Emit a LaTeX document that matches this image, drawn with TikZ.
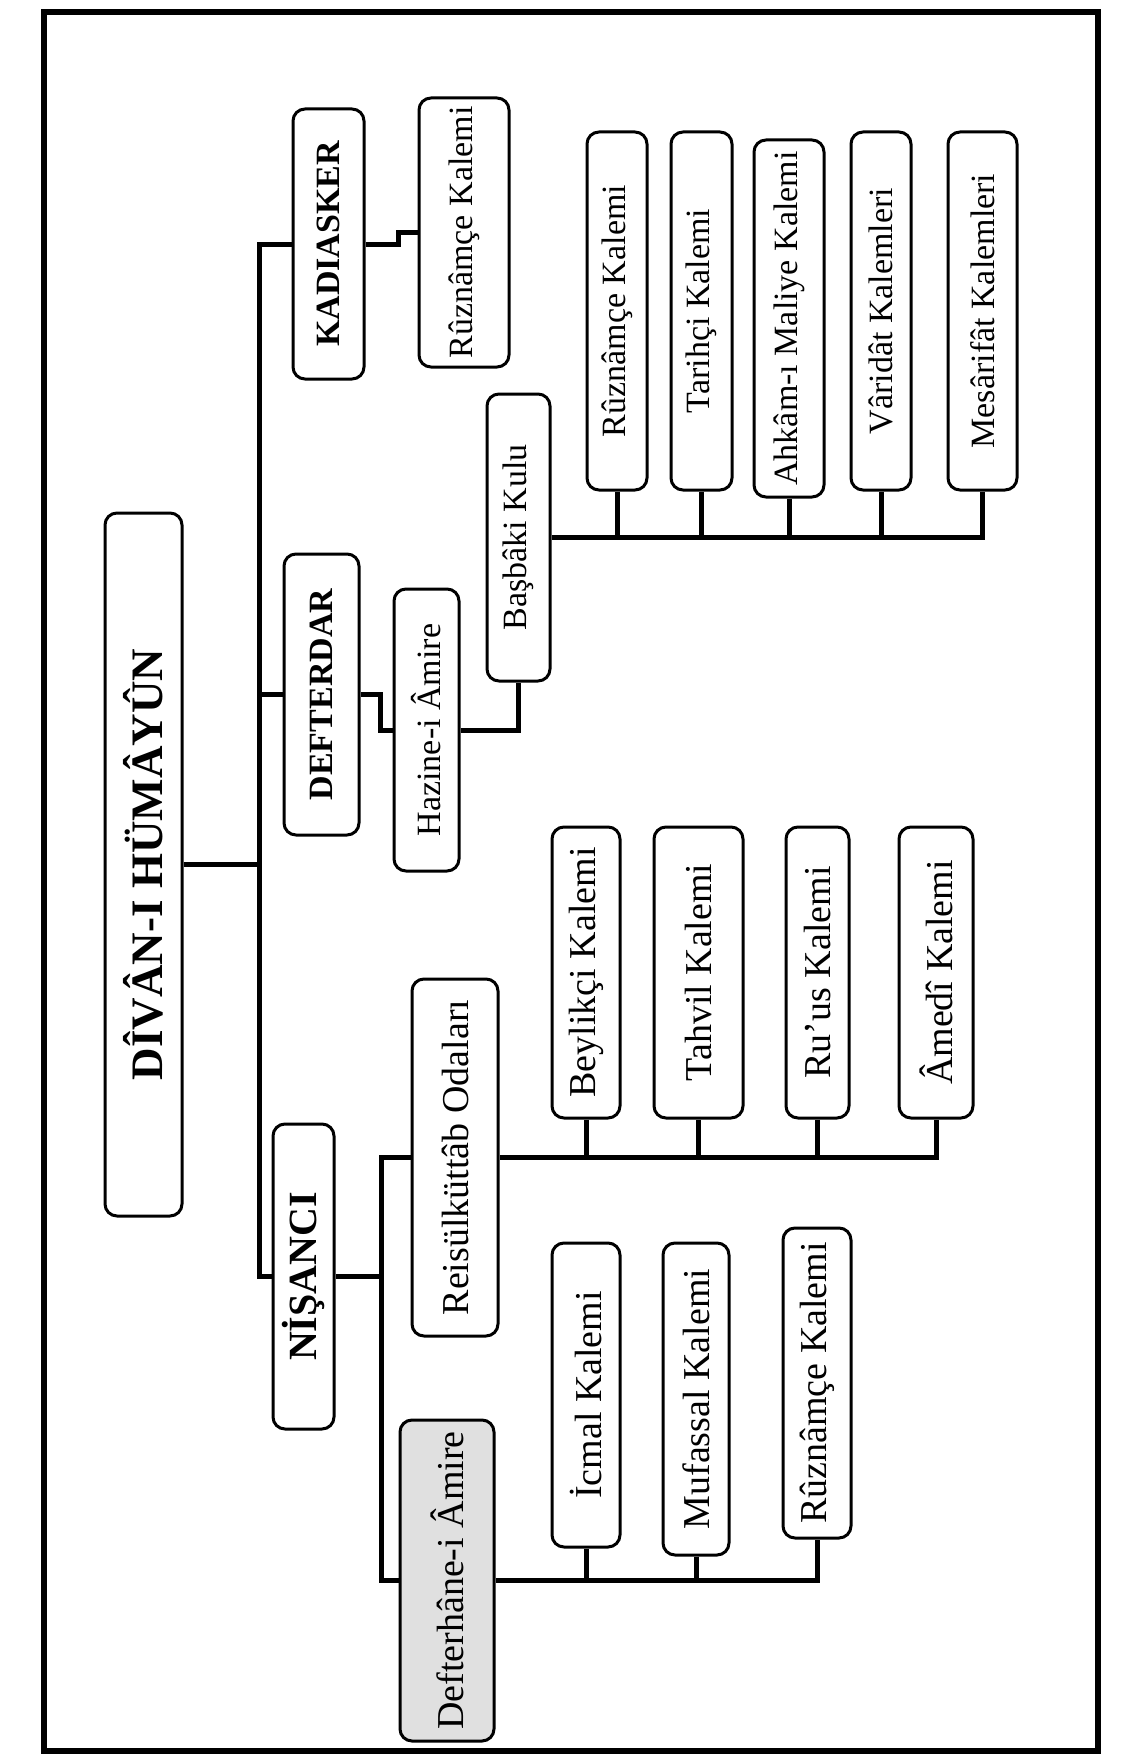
\documentclass[tikz,border=0pt]{standalone}
\usepackage{fontspec}
\setmainfont{Liberation Serif}

\begin{document}
\begin{tikzpicture}[x=1pt, y=-1pt]
        \tikzstyle{box} = [rectangle, rounded corners=12pt, draw=black, line width=3pt, fill=white, rotate=90, text centered, inner sep=0pt, font=\fontsize{34}{40}\selectfont]
        \tikzstyle{head} = [box, font=\fontsize{34}{40}\selectfont\bfseries]
        \tikzstyle{big} = [font=\fontsize{38}{44}\selectfont]
        \tikzstyle{link} = [line width=5pt]

        \useasboundingbox (0,0) rectangle (1143,1758);
        \draw [line width=6pt] (44,12) rectangle (1098,1751);

        \node (root) [head, font=\fontsize{45}{50}\selectfont\bfseries, minimum width=703pt, minimum height=77pt] at (143.5,864.5) {DÎVÂN-I HÜMÂYÛN};

        \node (kad) [head, minimum width=270pt, minimum height=71pt] at (328.5,244) {KADIASKER};
        \node (rk) [box, minimum width=269pt, minimum height=90pt] at (464,232.5) {Rûznâmçe Kalemi};

        \node (def) [head, minimum width=281pt, minimum height=75pt] at (321.5,694.5) {DEFTERDAR};
        \node (haz) [box, minimum width=282pt, minimum height=65pt] at (426.5,730) {Hazine-i Âmire};
        \node (bas) [box, minimum width=287pt, minimum height=63pt] at (518.5,537.5) {Başbâki Kulu};
        \node (c1) [box, minimum width=358pt, minimum height=60pt] at (617,311) {Rûznâmçe Kalemi};
        \node (c2) [box, minimum width=358pt, minimum height=61pt] at (701.5,311) {Tarihçi Kalemi};
        \node (c3) [box, minimum width=357pt, minimum height=70pt] at (789,318.5) {Ahkâm-ı Maliye Kalemi};
        \node (c4) [box, minimum width=358pt, minimum height=60pt] at (881,311) {Vâridât Kalemleri};
        \node (c5) [box, minimum width=358pt, minimum height=69pt] at (982.5,311) {Mesârifât Kalemleri};

        \node (nis) [head, font=\fontsize{40}{46}\selectfont\bfseries, minimum width=305pt, minimum height=61pt] at (303.5,1276.5) {NİŞANCI};
        \node (reis) [box, big, minimum width=357pt, minimum height=86pt] at (455,1157.5) {Reisülküttâb Odaları};
        \node (a1) [box, big, minimum width=291pt, minimum height=68pt] at (586,972.5) {Beylikçi Kalemi};
        \node (a2) [box, big, minimum width=291pt, minimum height=89pt] at (698.5,972.5) {Tahvil Kalemi};
        \node (a3) [box, big, minimum width=291pt, minimum height=63pt] at (817.5,972.5) {Ru’us Kalemi};
        \node (a4) [box, big, minimum width=291pt, minimum height=74pt] at (936,972.5) {Âmedî Kalemi};
        \node (dh) [box, big, fill=black!12, minimum width=321pt, minimum height=94pt] at (447,1580.5) {Defterhâne-i Âmire};
        \node (i1) [box, big, minimum width=304pt, minimum height=68pt] at (586,1395) {İcmal Kalemi};
        \node (i2) [box, big, minimum width=312pt, minimum height=66pt] at (696,1399) {Mufassal Kalemi};
        \node (i3) [box, big, minimum width=310pt, minimum height=68pt] at (817,1383) {Rûznâmçe Kalemi};

        \coordinate (trunk) at (259,864.5);
        \draw [link] (root.south) -- (trunk);
        \draw [link] (kad.north) -| (trunk) |- (nis.north);
        \draw [link] (def.north) -- (def.north -| trunk);

        \draw [link] (kad.south) -- ++(33,0) |- (rk.north);

        \draw [link] (def.south) -- ++(20,0) |- (haz.north);
        \draw [link] (haz.south) -| (bas.west);
        \draw [link] (bas.south) -| (c5.west);
        \foreach \n in {c1,c2,c3,c4}
            \draw [link] (\n.west) -- (\n.west |- bas.south);

        \draw [link] (nis.south) -- ++(46,0) coordinate (nj);
        \draw [link] (reis.north) -| (nj) |- (dh.north);
        \draw [link] (reis.south) -| (a4.west);
        \foreach \n in {a1,a2,a3}
            \draw [link] (\n.west) -- (\n.west |- reis.south);
        \draw [link] (dh.south) -| (i3.west);
        \foreach \n in {i1,i2}
            \draw [link] (\n.west) -- (\n.west |- dh.south);
    \end{tikzpicture}
\end{document}
